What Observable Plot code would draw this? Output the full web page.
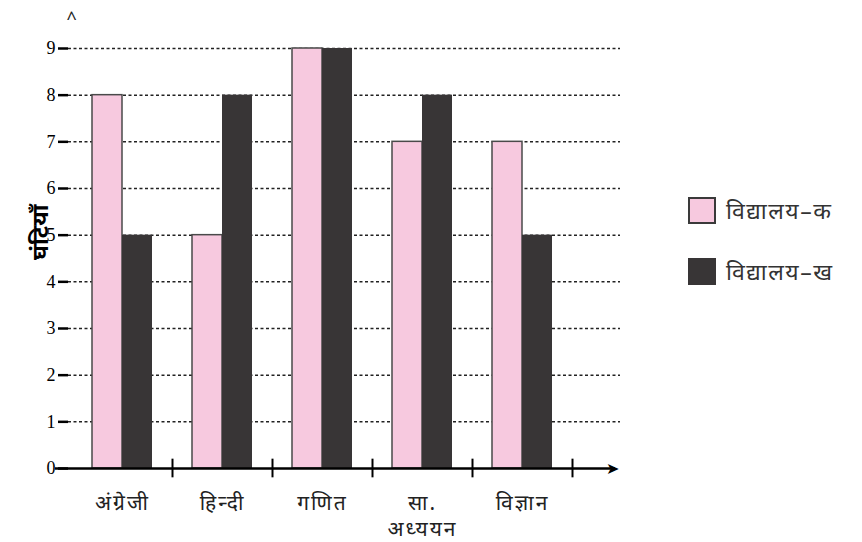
<!DOCTYPE html>
<html>
<head>
<meta charset="utf-8">
<script src="https://cdn.jsdelivr.net/npm/d3@7"></script>
<script src="https://cdn.jsdelivr.net/npm/@observablehq/plot@0.6"></script>
<style>
  body { margin: 0; background: #fff; }
  #wrap { position: relative; width: 862px; height: 542px; overflow: hidden; }
  .legend { position: absolute; left: 688px; font-family: "Noto Sans", "Lohit Devanagari", sans-serif; font-size: 23px; letter-spacing: 1.5px; color: #333; display: flex; align-items: center; white-space: nowrap; }
  .sw { width: 28px; height: 27px; margin-right: 10px; box-sizing: border-box; flex: none; }
  g[aria-label="x-axis tick label"] text { letter-spacing: 2px; }
</style>
</head>
<body>
<div id="wrap"></div>
<script>
const subjects = ["अंग्रेजी", "हिन्दी", "गणित", "सा.\nअध्ययन", "विज्ञान"];
const schoolA = [8, 5, 9, 7, 7];
const schoolB = [5, 8, 9, 8, 5];
const seriesNames = ["विद्यालय–क", "विद्यालय–ख"];
const yTicks = [0, 1, 2, 3, 4, 5, 6, 7, 8, 9];
const yLabel = "घंटियाँ";

const pink = "#f7c9df";
const dark = "#383536";

const dataA = subjects.map((s, i) => ({subject: s, value: schoolA[i]}));
const dataB = subjects.map((s, i) => ({subject: s, value: schoolB[i]}));

const chart = Plot.plot({
  width: 862,
  height: 542,
  marginLeft: 68,
  marginRight: 242,
  marginTop: 10,
  marginBottom: 74,
  style: {fontFamily: "'Noto Sans', 'Lohit Devanagari', sans-serif", background: "#fff"},
  x: {domain: subjects, range: [70.8, 573], paddingInner: 0.7015, paddingOuter: 0.35, label: null},
  y: {domain: [0, 9], range: [468, 48], label: null},
  marks: [
    Plot.ruleY(yTicks.filter(d => d > 0), {stroke: "#222", strokeWidth: 1.5, strokeDasharray: "3,2.5"}),
    Plot.barY(dataA, {x: "subject", y: "value", fill: pink, stroke: "#4a4a4a", strokeWidth: 1.5, dx: -15}),
    Plot.barY(dataB, {x: "subject", y: "value", fill: dark, dx: 15}),
    Plot.ruleY([0], {stroke: "#000", strokeWidth: 2.5, insetLeft: -13, insetRight: 5}),
    Plot.text([0], {y: d => d, text: () => "➤", frameAnchor: "right", dx: -2, fontSize: 16, fill: "#000"}),
    Plot.ruleX(subjects, {x: d => d, y1: -0.2, y2: 0.2, dx: 50, stroke: "#000", strokeWidth: 2}),
    Plot.axisY({ticks: yTicks, tickSize: 10, tickPadding: 3, tickFormat: d => String(d), fontSize: 18, fontFamily: "'Liberation Serif', serif", strokeWidth: 2.5, stroke: "#000", color: "#000"}),
    Plot.axisX({tickSize: 0, tickPadding: 24, fontSize: 21, lineHeight: 1.2, color: "#222", label: null}),
    Plot.text([yLabel], {text: d => d, frameAnchor: "left", dx: -28, y: 4.47, rotate: -90, fontSize: 23, fontWeight: "bold", fill: "#000"}),
    Plot.text(["^"], {text: d => d, frameAnchor: "top-left", dy: 2, dx: -2, fontSize: 18, fill: "#222"})
  ]
});

const wrap = document.getElementById("wrap");
wrap.appendChild(chart);

const colors = [pink, dark];
const tops = [194, 255];
seriesNames.forEach((name, i) => {
  const div = document.createElement("div");
  div.className = "legend";
  div.style.top = tops[i] + "px";
  const sw = document.createElement("div");
  sw.className = "sw";
  sw.style.background = colors[i];
  if (i === 0) sw.style.border = "2px solid #3a3a3a";
  const t = document.createElement("span");
  t.textContent = name;
  div.appendChild(sw);
  div.appendChild(t);
  wrap.appendChild(div);
});
</script>
</body>
</html>
